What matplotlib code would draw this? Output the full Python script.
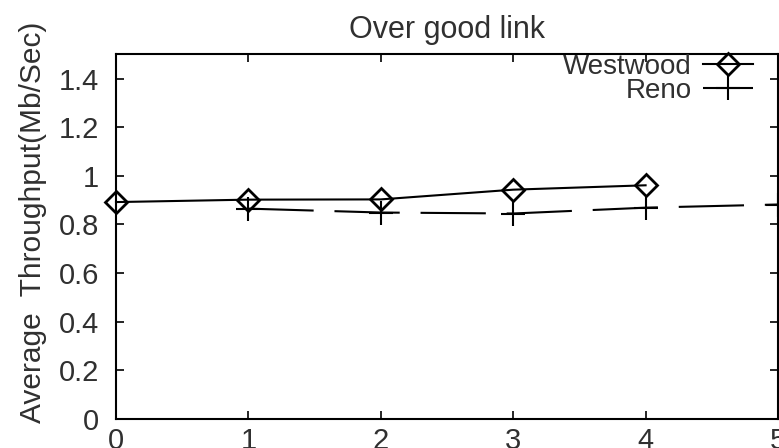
import matplotlib
matplotlib.use("Agg")
import matplotlib.pyplot as plt

plt.rcParams["font.family"] = ["Liberation Sans", "DejaVu Sans"]
plt.rcParams["lines.scale_dashes"] = False

# average throughput over a good link
westwood_x = [0, 1, 2, 3, 4]
westwood_y = [0.892, 0.902, 0.903, 0.943, 0.961]
reno_x = [1, 2, 3, 4, 5]
reno_y = [0.865, 0.849, 0.845, 0.869, 0.882]

txt = "#303030"

fig = plt.figure(figsize=(7.79, 4.48), dpi=100)
ax = fig.add_axes([0.1489, 0.0647, 0.8498, 0.8143])

ax.plot(westwood_x, westwood_y, color="k", lw=1.5, marker="D", ms=11,
        mfc="none", mec="k", mew=2, label="Westwood", clip_on=False)
ax.plot(reno_x, reno_y, color="k", lw=1.5, linestyle=(0, (47, 15)),
        marker="+", ms=17, mew=1.5, label="Reno", clip_on=False)

ax.set_xlim(0, 5)
ax.set_ylim(0, 1.5)
ax.set_xticks([0, 1, 2, 3, 4, 5])
ax.set_yticks([0, 0.2, 0.4, 0.6, 0.8, 1.0, 1.2, 1.4])
ax.set_yticklabels(["0", "0.2", "0.4", "0.6", "0.8", "1", "1.2", "1.4"])
ax.tick_params(direction="in", length=6, width=1.2, top=True, right=True,
               labelsize=21, labelcolor=txt)
ax.tick_params(axis="y", pad=12)
ax.tick_params(axis="x", pad=6)
for s in ax.spines.values():
    s.set_linewidth(1.5)

ax.set_title("Over good link", fontsize=22, color=txt, pad=12)
ax.set_ylabel("Average  Throughput(Mb/Sec)", fontsize=21.5, color=txt)
ax.yaxis.set_label_coords(-0.104, 0.54)

ax.legend(loc="upper right", bbox_to_anchor=(0.962, 1.001), frameon=False,
          markerfirst=False, fontsize=20, labelcolor=txt, handlelength=1.8,
          handletextpad=0.4, labelspacing=-0.08, borderpad=0, borderaxespad=0)

fig.savefig("out.png", dpi=100)
